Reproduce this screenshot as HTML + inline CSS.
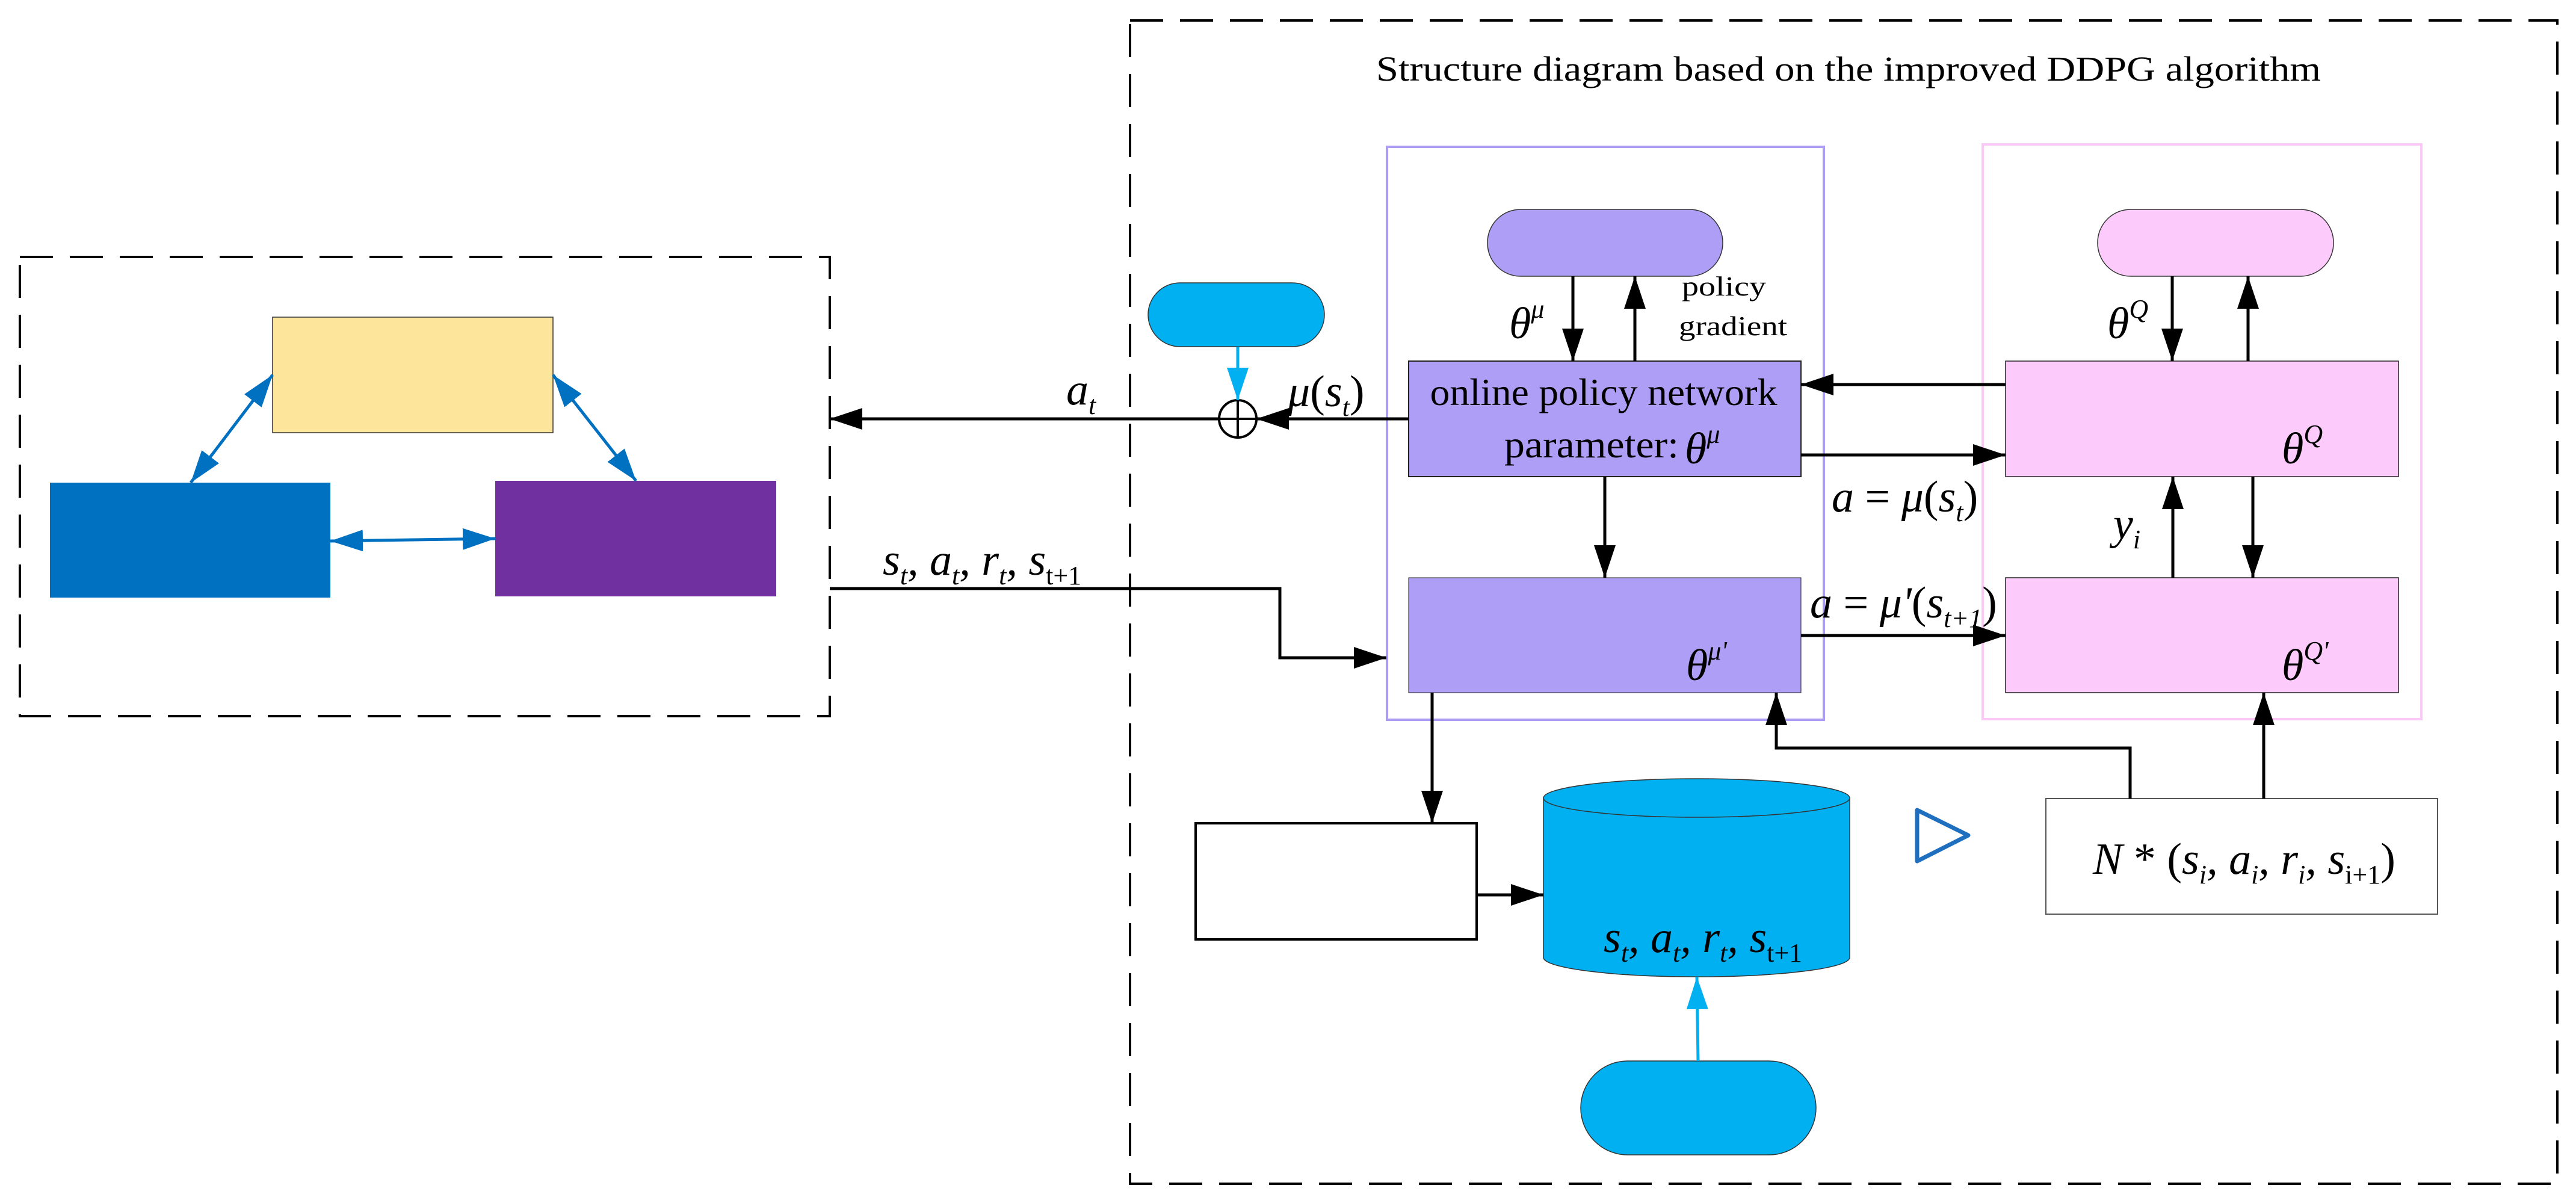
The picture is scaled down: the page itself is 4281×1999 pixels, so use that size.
<!DOCTYPE html>
<html><head><meta charset="utf-8"><style>html,body{margin:0;padding:0;background:#fff}svg{display:block}</style></head>
<body>
<svg width="4281" height="1999" viewBox="0 0 4281 1999" xmlns="http://www.w3.org/2000/svg" font-family="'Liberation Serif', serif">
<defs>
<marker id="ab" markerUnits="userSpaceOnUse" markerWidth="56" markerHeight="38" refX="54" refY="18" orient="auto"><path d="M0,0 L54,18 L0,36 z" fill="#000"/></marker>
<marker id="ablue" markerUnits="userSpaceOnUse" markerWidth="56" markerHeight="38" refX="54" refY="18" orient="auto-start-reverse"><path d="M0,0 L54,18 L0,36 z" fill="#0070C0"/></marker>
<marker id="acy" markerUnits="userSpaceOnUse" markerWidth="56" markerHeight="38" refX="54" refY="18" orient="auto"><path d="M0,0 L54,18 L0,36 z" fill="#00B0F0"/></marker>
</defs>
<g fill="none" stroke="#000" stroke-width="4" stroke-dasharray="55,28">
<rect x="33" y="427" width="1346" height="763"/>
<rect x="1878" y="34" width="2372" height="1933"/>
</g>
<rect x="453" y="527" width="466" height="192" fill="#FDE59C" stroke="#333" stroke-width="1.5"/>
<rect x="83" y="802" width="466" height="191" fill="#0070C0"/>
<rect x="823" y="799" width="467" height="192" fill="#7030A0"/>
<g stroke="#0070C0" stroke-width="5" fill="none">
<line x1="453" y1="623" x2="317" y2="802" marker-start="url(#ablue)" marker-end="url(#ablue)"/>
<line x1="919" y1="623" x2="1057" y2="799" marker-start="url(#ablue)" marker-end="url(#ablue)"/>
<line x1="549" y1="899" x2="823" y2="895" marker-start="url(#ablue)" marker-end="url(#ablue)"/>
</g>
<text x="2287" y="134" font-size="58" textLength="1570" lengthAdjust="spacingAndGlyphs">Structure diagram based on the improved DDPG algorithm</text>
<rect x="2305" y="244" width="726" height="952" fill="none" stroke="#AC9CF3" stroke-width="4"/>
<rect x="3295" y="240" width="729" height="955" fill="none" stroke="#FBC8F7" stroke-width="4"/>
<rect x="2472" y="348" width="391" height="111" rx="55" fill="#AE9EF6" stroke="#333" stroke-width="1.5"/>
<rect x="3486" y="348" width="392" height="111" rx="55" fill="#FCCBFB" stroke="#333" stroke-width="1.5"/>
<rect x="1908" y="470" width="293" height="106" rx="53" fill="#00B0F0" stroke="#333" stroke-width="1.5"/>
<rect x="2627" y="1763" width="391" height="156" rx="78" fill="#00B0F0" stroke="#333" stroke-width="1.5"/>
<rect x="2341" y="600" width="652" height="192" fill="#AE9EF6" stroke="#222" stroke-width="2"/>
<rect x="2341" y="960" width="652" height="191" fill="#AE9EF6" stroke="#222" stroke-width="1"/>
<rect x="3333" y="600" width="653" height="192" fill="#FCCBFB" stroke="#222" stroke-width="1.5"/>
<rect x="3333" y="960" width="653" height="191" fill="#FCCBFB" stroke="#222" stroke-width="1.5"/>
<rect x="1987" y="1368" width="467" height="193" fill="#fff" stroke="#000" stroke-width="4"/>
<rect x="3400" y="1327" width="651" height="192" fill="#fff" stroke="#555" stroke-width="2"/>
<path d="M2565,1326 L2565,1591 A254,32 0 0 0 3074,1591 L3074,1326 z" fill="#00B0F0" stroke="#333" stroke-width="1.5"/>
<ellipse cx="2819.5" cy="1326" rx="254.5" ry="32" fill="#00B0F0" stroke="#333" stroke-width="1.5"/>
<path d="M3186,1346 L3271,1388 L3186,1431 z" fill="none" stroke="#1F6FC0" stroke-width="7" stroke-linejoin="round"/>
<circle cx="2057" cy="696" r="31" fill="#fff" stroke="#000" stroke-width="4"/>
<line x1="2026" y1="696" x2="2088" y2="696" stroke="#000" stroke-width="4"/>
<line x1="2057" y1="665" x2="2057" y2="727" stroke="#000" stroke-width="4"/>
<g stroke="#000" stroke-width="5" fill="none">
<line x1="2026" y1="696" x2="1379" y2="696" marker-end="url(#ab)"/>
<line x1="2341" y1="696" x2="2088" y2="696" marker-end="url(#ab)"/>
<polyline points="1379,978 2127,978 2127,1093 2304,1093" marker-end="url(#ab)"/>
<line x1="2614" y1="459" x2="2614" y2="600" marker-end="url(#ab)"/>
<line x1="2717" y1="600" x2="2717" y2="459" marker-end="url(#ab)"/>
<line x1="3610" y1="459" x2="3610" y2="600" marker-end="url(#ab)"/>
<line x1="3736" y1="600" x2="3736" y2="459" marker-end="url(#ab)"/>
<line x1="3333" y1="639" x2="2993" y2="639" marker-end="url(#ab)"/>
<line x1="2993" y1="756" x2="3333" y2="756" marker-end="url(#ab)"/>
<line x1="2667" y1="792" x2="2667" y2="960" marker-end="url(#ab)"/>
<line x1="3611" y1="960" x2="3611" y2="792" marker-end="url(#ab)"/>
<line x1="3744" y1="792" x2="3744" y2="960" marker-end="url(#ab)"/>
<line x1="2993" y1="1056" x2="3333" y2="1056" marker-end="url(#ab)"/>
<line x1="2380" y1="1151" x2="2380" y2="1368" marker-end="url(#ab)"/>
<line x1="2454" y1="1487" x2="2565" y2="1487" marker-end="url(#ab)"/>
<polyline points="3540,1327 3540,1243 2952,1243 2952,1151" marker-end="url(#ab)"/>
<line x1="3762" y1="1327" x2="3762" y2="1151" marker-end="url(#ab)"/>
</g>
<g stroke="#00B0F0" stroke-width="5" fill="none">
<line x1="2057" y1="576" x2="2057" y2="665" marker-end="url(#acy)"/>
<line x1="2822" y1="1763" x2="2820" y2="1623" marker-end="url(#acy)"/>
</g>
<g font-size="64" fill="#000">
<text x="2665" y="673" text-anchor="middle" textLength="577" lengthAdjust="spacingAndGlyphs">online policy network</text>
<text x="2500" y="760" textLength="290" lengthAdjust="spacingAndGlyphs">parameter:</text>
<text x="2795" y="491" font-size="46" textLength="140" lengthAdjust="spacingAndGlyphs">policy</text>
<text x="2790" y="557" font-size="46" textLength="180" lengthAdjust="spacingAndGlyphs">gradient</text>
</g>
<g font-style="italic" font-size="74" fill="#000">
<text x="2800" y="770">θ<tspan font-size="44" dy="-34">μ</tspan></text>
<text x="2508" y="562">θ<tspan font-size="44" dy="-34">μ</tspan></text>
<text x="3502" y="562">θ<tspan font-size="44" dy="-34">Q</tspan></text>
<text x="3792" y="770">θ<tspan font-size="44" dy="-34">Q</tspan></text>
<text x="3792" y="1130">θ<tspan font-size="44" dy="-34">Q'</tspan></text>
<text x="2802" y="1130">θ<tspan font-size="44" dy="-34">μ'</tspan></text>
<text x="1772" y="672">a<tspan font-size="44" dy="16">t</tspan></text>
<text x="2140" y="675">μ<tspan font-style="normal">(</tspan>s<tspan font-size="44" dy="16">t</tspan><tspan font-style="normal" dy="-16">)</tspan></text>
<text x="3044" y="850">a <tspan font-style="normal">=</tspan> μ<tspan font-style="normal">(</tspan>s<tspan font-size="44" dy="16">t</tspan><tspan font-style="normal" dy="-16">)</tspan></text>
<text x="3008" y="1026">a <tspan font-style="normal">=</tspan> μ'<tspan font-style="normal">(</tspan>s<tspan font-size="44" dy="16">t+1</tspan><tspan font-style="normal" dy="-16">)</tspan></text>
<text x="3512" y="895">y<tspan font-size="44" dy="16">i</tspan></text>
<text x="1467" y="955">s<tspan font-size="44" dy="16">t</tspan><tspan dy="-16">, a</tspan><tspan font-size="44" dy="16">t</tspan><tspan dy="-16">, r</tspan><tspan font-size="44" dy="16">t</tspan><tspan dy="-16">, s</tspan><tspan font-size="44" dy="16" font-style="normal">t+1</tspan></text>
<text x="2665" y="1582">s<tspan font-size="44" dy="16">t</tspan><tspan dy="-16">, a</tspan><tspan font-size="44" dy="16">t</tspan><tspan dy="-16">, r</tspan><tspan font-size="44" dy="16">t</tspan><tspan dy="-16">, s</tspan><tspan font-size="44" dy="16" font-style="normal">t+1</tspan></text>
<text x="3478" y="1452">N <tspan font-style="normal">* (</tspan>s<tspan font-size="44" dy="16">i</tspan><tspan dy="-16">, a</tspan><tspan font-size="44" dy="16">i</tspan><tspan dy="-16">, r</tspan><tspan font-size="44" dy="16">i</tspan><tspan dy="-16">, s</tspan><tspan font-size="44" dy="16" font-style="normal">i+1</tspan><tspan font-style="normal" dy="-16">)</tspan></text>
</g>
</svg>
</body></html>
